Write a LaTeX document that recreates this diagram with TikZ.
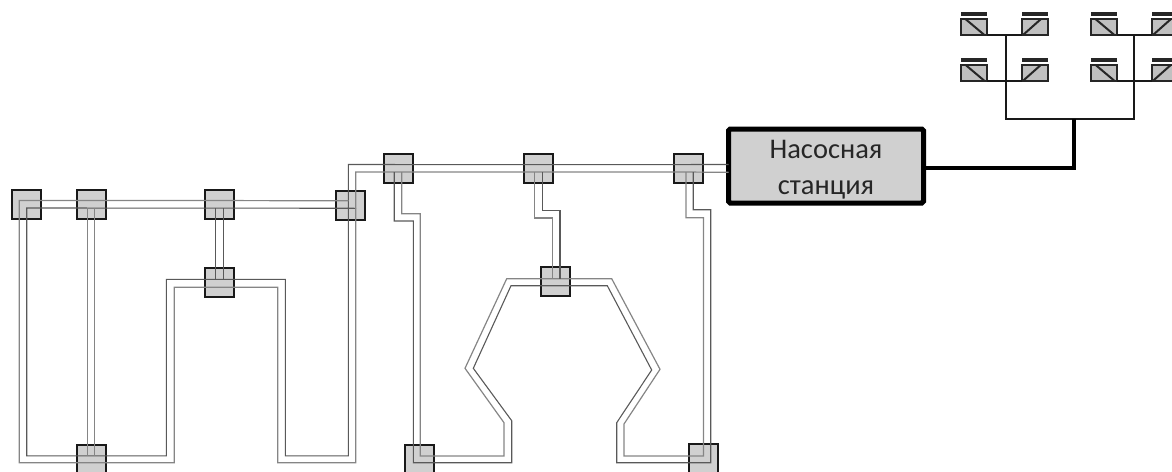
\documentclass[tikz,border=0pt]{standalone}
\usepackage{fontspec}
\setmainfont{Carlito}
\usetikzlibrary{positioning}
\definecolor{boxgray}{RGB}{208,208,208}
\definecolor{panelgray}{RGB}{192,192,192}
\tikzset{
  nodebox/.style={rectangle,draw=black!90,fill=boxgray,line width=0.04cm,minimum size=0.58cm,inner sep=0pt,outer sep=0pt},
  pumpbox/.style={rectangle,rounded corners=1pt,draw=black,fill=boxgray,line width=0.1cm,minimum width=3.9cm,minimum height=1.48cm,inner sep=0pt,outer sep=0pt,align=center,text=black!85,font=\fontsize{16.2}{20.5}\selectfont},
  panelbase/.style={rectangle,draw=black!85,fill=panelgray,line width=0.04cm,minimum width=0.52cm,minimum height=0.32cm,inner sep=0pt,outer sep=0pt},
  panelL/.style={panelbase,path picture={\draw[black!85,line width=0.04cm] ([xshift=0.09cm]path picture bounding box.north west)--([xshift=-0.05cm]path picture bounding box.south east);}},
  panelR/.style={panelbase,path picture={\draw[black!85,line width=0.04cm] ([xshift=0.02cm]path picture bounding box.south west)--([xshift=-0.14cm]path picture bounding box.north east);}},
  panelbar/.style={draw=black!85,line width=0.07cm},
  treeline/.style={draw=black!90,line width=0.036cm},
  mainline/.style={draw=black,line width=0.08cm,line join=miter},
  pipedark/.style={draw=black!65,line width=0.022cm},
  pipelite/.style={draw=black!48,line width=0.024cm},
  pup/.style={yshift=0.075cm},
  pdn/.style={yshift=-0.075cm},
  plt/.style={xshift=-0.075cm},
  prt/.style={xshift=0.075cm}
}

\begin{document}
\begin{tikzpicture}
  \clip (0,0) rectangle (23.44,-9.44);

  %% Pump station and main row
  \node[pumpbox] (pump) at (16.52,-3.32) {\rule{0pt}{0.5cm}Насосная\\станция};
  \node[nodebox,left=0.51cm of pump,yshift=-0.046cm] (nodeC) {};
  \node[nodebox,left=2.42cm of nodeC] (nodeB) {};
  \node[nodebox,left=2.23cm of nodeB] (nodeA) {};

  %% Left network
  \node[nodebox,below left=0.17cm and 0.38cm of nodeA] (nodeD) {};
  \node[nodebox,left=2.03cm of nodeD,yshift=0.03cm] (nodeE) {};
  \node[nodebox,left=1.99cm of nodeE] (nodeF) {};
  \node[nodebox,left=0.71cm of nodeF] (nodeG) {};
  \node[nodebox,below=0.98cm of nodeE] (nodeH) {};
  \node[nodebox,below=4.53cm of nodeF] (nodeJ) {};

  %% Right network
  \node[nodebox,below=1.69cm of nodeB,xshift=0.34cm] (nodeM) {};
  \node[nodebox,below=5.25cm of nodeA,xshift=0.42cm] (nodeL) {};
  \node[nodebox,below=5.23cm of nodeC,xshift=0.30cm] (nodeR) {};

  %% Solar panels
  \node[panelL] (pa1) at (19.478,-0.54) {};
  \node[panelR,right=0.702cm of pa1] (pa2) {};
  \node[panelL,right=0.858cm of pa2] (pa3) {};
  \node[panelR,right=0.702cm of pa3] (pa4) {};
  \node[panelL,below=0.596cm of pa1] (pb1) {};
  \node[panelR,below=0.596cm of pa2] (pb2) {};
  \node[panelL,below=0.596cm of pa3] (pb3) {};
  \node[panelR,below=0.596cm of pa4] (pb4) {};

  \draw[panelbar] ([yshift=0.1cm]pa1.north west)--([yshift=0.1cm]pa1.north east); \draw[panelbar] ([yshift=0.1cm]pa2.north west)--([yshift=0.1cm]pa2.north east);
  \draw[panelbar] ([yshift=0.1cm]pa3.north west)--([yshift=0.1cm]pa3.north east); \draw[panelbar] ([yshift=0.1cm]pa4.north west)--([yshift=0.1cm]pa4.north east);
  \draw[panelbar] ([yshift=0.1cm]pb1.north west)--([yshift=0.1cm]pb1.north east); \draw[panelbar] ([yshift=0.1cm]pb2.north west)--([yshift=0.1cm]pb2.north east);
  \draw[panelbar] ([yshift=0.1cm]pb3.north west)--([yshift=0.1cm]pb3.north east); \draw[panelbar] ([yshift=0.1cm]pb4.north west)--([yshift=0.1cm]pb4.north east);

  %% Panel wiring
  \coordinate (trunkL) at (20.114,-2.38);
  \coordinate (trunkR) at (22.686,-2.38);
  \coordinate (trunkM) at (21.474,-2.38);
  \draw[treeline] (pa1.south east)--(pa2.south west); \draw[treeline] (pa3.south east)--(pa4.south west);
  \draw[treeline] (pb1.south east)--(pb2.south west); \draw[treeline] (pb3.south east)--(pb4.south west);
  \draw[treeline] (trunkL|-pa1.south) -- (trunkL) -- (trunkR) -- (trunkR|-pa3.south);
  \draw[mainline] ([yshift=-0.046cm]pump.east) -| (trunkM);

  %% Long pipe loops
  \draw[pipedark] ([yshift=0.03cm]pump.west) -- ([pup]nodeC.center) -- ([pup]nodeB.center) -- ([pup]nodeA.center) -- (6.966,-3.29) -- (6.966,-9.116) -- (5.706,-9.116) -- (5.706,-5.586) -- (3.326,-5.586) -- (3.326,-9.116) -- (0.534,-9.116) -- (0.534,-4.16) -- ([pdn]nodeF.center) -- ([pdn]nodeE.center) -- ([xshift=0.12cm,yshift=-0.05cm]nodeD.center);
  \draw[pipelite] ([yshift=-0.126cm]pump.west) -- ([pdn]nodeC.center) -- ([pdn]nodeB.center) -- ([pdn]nodeA.center) -- (7.114,-3.44) -- (7.114,-9.254) -- (5.554,-9.254) -- (5.554,-5.746) -- (3.486,-5.746) -- (3.486,-9.254) -- (0.386,-9.254) -- (0.386,-4.01) -- ([pup]nodeF.center) -- ([pup]nodeE.center) -- ([xshift=-0.03cm,yshift=0.1cm]nodeD.center);
  \draw[pipedark] ([plt,pdn]nodeA.center) |- (8.266,-4.42) -- (8.266,-9.254) -- (10.234,-9.254) -- (10.234,-8.414) -- (9.466,-7.366) -- (10.22,-5.714) -- (12.146,-5.714) -- (13.034,-7.4) -- (12.334,-8.454) -- (12.334,-9.254) -- (14.214,-9.254) -- (14.214,-4.194) -| ([xshift=0.094cm,yshift=-0.075cm]nodeC.center);
  \draw[pipelite] ([prt,pdn]nodeA.center) |- (8.406,-4.274) -- (8.406,-9.12) -- (10.08,-9.12) -- (10.08,-8.454) -- (9.3,-7.366) -- (10.134,-5.574) -- (12.234,-5.574) -- (13.2,-7.386) -- (12.48,-8.48) -- (12.48,-9.12) -- (14.07,-9.12) -- (14.07,-4.354) -| ([xshift=-0.052cm,yshift=-0.075cm]nodeC.center);

  %% Short branches
  \draw[pipelite] ([plt,pdn]nodeF.center) -- ([plt,pup]nodeJ.center); \draw[pipelite] ([prt,pdn]nodeF.center) -- ([prt,pup]nodeJ.center);
  \draw[pipedark] ([plt,pdn]nodeE.center) -- ([plt,yshift=0.06cm]nodeH.center); \draw[pipedark] ([prt,pdn]nodeE.center) -- ([prt,yshift=0.06cm]nodeH.center);
  \draw[pipelite] ([plt,pdn]nodeB.center) |- (11.046,-4.36) -| ([xshift=-0.06cm,yshift=0.06cm]nodeM.center);
  \draw[pipedark] ([prt,pdn]nodeB.center) |- (11.194,-4.206) -| ([xshift=0.09cm,yshift=0.06cm]nodeM.center);
\end{tikzpicture}
\end{document}
